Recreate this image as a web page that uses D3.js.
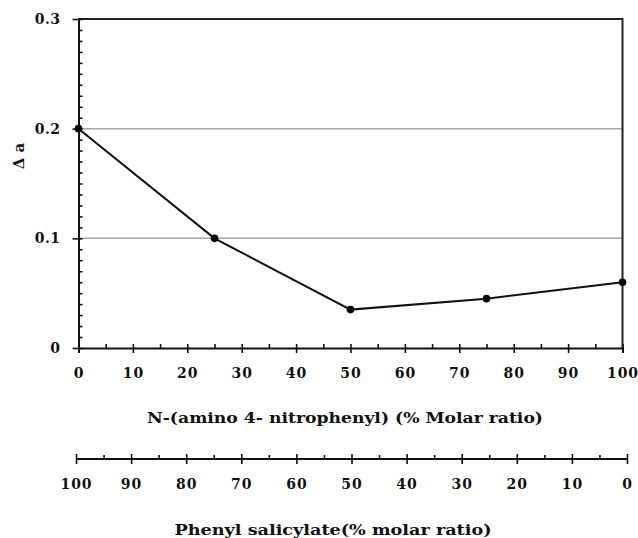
<!DOCTYPE html>
<html>
<head>
<meta charset="utf-8">
<script src="https://cdn.jsdelivr.net/npm/d3@7"></script>
<style>
  body { margin: 0; background: #fff; }
  svg text { font-family: "DejaVu Serif", "Liberation Serif", serif; font-weight: bold; fill: #111; }
  .domain { stroke: #111; stroke-width: 2; }
  .tick line { stroke: #111; stroke-width: 1.6; }
</style>
</head>
<body>
<script>
// data
let molarN = [0, 25, 50, 75, 100];
let deltaA = [0.2, 0.1, 0.035, 0.045, 0.06];

// tick values
let xTicks = [0, 10, 20, 30, 40, 50, 60, 70, 80, 90, 100];
let xMinor = [5, 15, 25, 35, 45, 55, 65, 75, 85, 95];
let yTicks = [0, 0.1, 0.2, 0.3];
let yTickLabels = ["0", "0.1", "0.2", "0.3"];
let yMinor = d3.range(0, 31).map((i) => i / 100);
let gridVals = [0.1, 0.2];

let xTitle = "N-(amino 4- nitrophenyl) (% Molar ratio)";
let x2Title = "Phenyl salicylate(% molar ratio)";
let yTitle = "\u0394 a";

let w = 638;
let h = 538;

let svg = d3.select('body').append('svg').attr('width', w).attr('height', h);

let xScale = d3.scaleLinear().domain([0, 100]).range([78.5, 622.5]);
let yScale = d3.scaleLinear().domain([0, 0.3]).range([348, 19]);
// the second axis runs the other way
let x2Scale = d3.scaleLinear().domain([100, 0]).range([76, 627]);

// grid lines
svg.append('g')
  .selectAll('line')
  .data(gridVals)
  .enter()
  .append('line')
  .attr('x1', xScale(0))
  .attr('x2', xScale(100))
  .attr('y1', (d) => yScale(d))
  .attr('y2', (d) => yScale(d))
  .style('stroke', '#a8a8a8')
  .style('stroke-width', 1.5);

// top and right border
svg.append('path')
  .attr('d', `M${xScale(0)},${yScale(0.3)}H${xScale(100)}V${yScale(0)}`)
  .style('fill', 'none')
  .style('stroke', '#222')
  .style('stroke-width', 2);

// y minor ticks (inside)
let yMinorAxis = d3.axisRight(yScale).tickValues(yMinor).tickSize(4).tickFormat('');
svg.append('g')
  .attr('transform', `translate(${xScale(0)}, 0)`)
  .call(yMinorAxis)
  .call((g) => g.select('.domain').remove());

// y axis
let yAxis = d3.axisLeft(yScale)
  .tickValues(yTicks)
  .tickSize(6)
  .tickSizeOuter(0)
  .tickPadding(12)
  .tickFormat((d, i) => yTickLabels[i]);
svg.append('g')
  .attr('transform', `translate(${xScale(0)}, 0)`)
  .call(yAxis)
  .attr('font-family', null)
  .selectAll('text')
  .style('font-size', '14px')
  .style('letter-spacing', '0.5px');

// x minor ticks (inside)
let xMinorAxis = d3.axisTop(xScale).tickValues(xMinor).tickSize(4).tickFormat('');
svg.append('g')
  .attr('transform', `translate(0, ${yScale(0)})`)
  .call(xMinorAxis)
  .call((g) => g.select('.domain').remove());

// x axis, major ticks cross the line
let xAxis = d3.axisBottom(xScale)
  .tickValues(xTicks)
  .tickSizeOuter(0)
  .tickSize(5)
  .tickPadding(15);
let xAxisGroup = svg.append('g')
  .attr('transform', `translate(0, ${yScale(0)})`)
  .call(xAxis)
  .attr('font-family', null);
xAxisGroup.selectAll('.tick line').attr('y1', -4);
xAxisGroup.selectAll('text')
  .style('font-size', '14px')
  .style('letter-spacing', '1px');

// second x axis
let x2Y = 459;
svg.append('g')
  .attr('transform', `translate(0, ${x2Y})`)
  .call(d3.axisTop(x2Scale).tickValues(xMinor).tickSize(4).tickFormat(''))
  .call((g) => g.select('.domain').remove());
let x2Axis = d3.axisBottom(x2Scale)
  .tickValues(xTicks)
  .tickSizeOuter(0)
  .tickSize(5)
  .tickPadding(15);
let x2Group = svg.append('g')
  .attr('transform', `translate(0, ${x2Y})`)
  .call(x2Axis)
  .attr('font-family', null);
x2Group.select('.domain').attr('d', `M${x2Scale(100)},0H${x2Scale(0)}`);
x2Group.selectAll('.tick line').attr('y1', -5);
x2Group.selectAll('text')
  .style('font-size', '14px')
  .style('letter-spacing', '1px');

// axis titles
svg.append('text')
  .attr('x', 345)
  .attr('y', 423)
  .attr('text-anchor', 'middle')
  .style('font-size', '15px')
  .attr('textLength', 396)
  .attr('lengthAdjust', 'spacingAndGlyphs')
  .text(xTitle);

svg.append('text')
  .attr('x', 333)
  .attr('y', 535)
  .attr('text-anchor', 'middle')
  .style('font-size', '15px')
  .attr('textLength', 317)
  .attr('lengthAdjust', 'spacingAndGlyphs')
  .text(x2Title);

svg.append('text')
  .attr('transform', 'translate(24, 156) rotate(-90)')
  .attr('text-anchor', 'middle')
  .style('font-size', '15px')
  .text(yTitle);

// data line
let points = molarN.map((m, i) => ({ x: m, y: deltaA[i] }));
let line = d3.line().x((d) => xScale(d.x)).y((d) => yScale(d.y));
svg.append('path')
  .datum(points)
  .attr('d', line)
  .style('fill', 'none')
  .style('stroke', '#111')
  .style('stroke-width', 2);

svg.selectAll('.pt')
  .data(points)
  .enter()
  .append('circle')
  .classed('pt', true)
  .attr('cx', (d) => xScale(d.x))
  .attr('cy', (d) => yScale(d.y))
  .attr('r', 3.8)
  .style('fill', '#000');
</script>
</body>
</html>
